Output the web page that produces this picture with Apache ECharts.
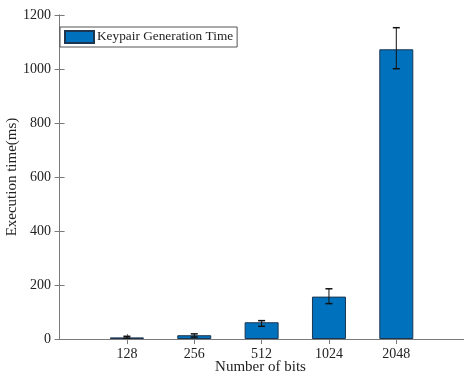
<!DOCTYPE html>
<html>
<head>
<meta charset="utf-8">
<script src="https://cdn.jsdelivr.net/npm/echarts@6/dist/echarts.min.js"></script>
<style>
  html, body { margin: 0; padding: 0; background: #fff; }
  #chart { width: 464px; height: 372px; }
</style>
</head>
<body>
<div id="chart"></div>
<script>
// Key sizes and their mean keypair generation times (ms)
const bitLabels = ['128', '256', '512', '1024', '2048'];
const meanTimes = [6, 14, 62, 157, 1073];
const lowerBounds = [3, 7, 47, 131, 1001];
const upperBounds = [10, 19, 68, 186, 1153];
const yTicks = [0, 200, 400, 600, 800, 1000, 1200];

const positions = bitLabels.map((_, i) => i + 1);
const barData = positions.map((p, i) => [p, meanTimes[i]]);
const errData = positions.map((p, i) => [p, lowerBounds[i], upperBounds[i]]);

const serif = '"Liberation Serif", "DejaVu Serif", serif';
const axisGray = '#7a7a7a';
const textColor = '#222';

const chart = echarts.init(document.getElementById('chart'), null, { renderer: 'canvas' });

const tickStyle = { inside: true, length: 5, lineStyle: { color: axisGray, width: 1 } };

chart.setOption({
  animation: false,
  backgroundColor: '#fff',
  grid: { left: 56, right: -1, top: 15, bottom: 33, containLabel: false, outerBoundsMode: 'none' },
  legend: {
    show: true,
    left: 60,
    top: 27,
    orient: 'vertical',
    itemWidth: 29,
    itemHeight: 12,
    itemGap: 0,
    padding: [3, 4, 3, 4],
    borderColor: '#555',
    borderWidth: 1,
    borderRadius: 0,
    backgroundColor: '#fff',
    textStyle: { fontFamily: serif, fontSize: 13.3, color: textColor, padding: [0, 0, 0, -2] },
    data: [{ name: 'Keypair Generation Time', icon: 'rect' }]
  },
  xAxis: [
    {
      type: 'value',
      min: -0.053,
      max: 6.02,
      position: 'bottom',
      splitLine: { show: false },
      axisLine: { show: true, lineStyle: { color: axisGray, width: 1 } },
      axisTick: Object.assign({ show: true, customValues: positions }, tickStyle),
      axisLabel: {
        customValues: positions,
        formatter: v => bitLabels[Math.round(v) - 1] || '',
        fontFamily: serif, fontSize: 14, color: textColor, margin: 8
      },
      name: 'Number of bits',
      nameLocation: 'middle',
      nameGap: 21,
      nameMoveOverlap: false,
      nameTextStyle: { fontFamily: serif, fontSize: 15, color: textColor }
    },
    {
      type: 'value',
      min: -0.053,
      max: 6.02,
      position: 'top',
      splitLine: { show: false },
      axisLine: { show: true, lineStyle: { color: axisGray, width: 1 } },
      axisTick: Object.assign({ show: true, customValues: positions }, tickStyle),
      axisLabel: { show: false }
    }
  ],
  yAxis: [
    {
      type: 'value',
      min: 0,
      max: 1200,
      interval: 200,
      position: 'left',
      splitLine: { show: false },
      axisLine: { show: true, lineStyle: { color: axisGray, width: 1 } },
      axisTick: Object.assign({ show: true }, tickStyle),
      axisLabel: {
        fontFamily: serif, fontSize: 14, color: textColor, margin: 5,
        customValues: yTicks,
        formatter: v => String(v)
      },
      name: 'Execution time(ms)',
      nameLocation: 'middle',
      nameGap: 36,
      nameRotate: 90,
      nameMoveOverlap: false,
      nameTextStyle: { fontFamily: serif, fontSize: 15, color: textColor }
    },
    {
      type: 'value',
      min: 0,
      max: 1200,
      interval: 200,
      position: 'right',
      splitLine: { show: false },
      axisLine: { show: true, lineStyle: { color: axisGray, width: 1 } },
      axisTick: Object.assign({ show: true }, tickStyle),
      axisLabel: { show: false }
    }
  ],
  series: [
    {
      name: 'Keypair Generation Time',
      type: 'bar',
      xAxisIndex: 0,
      yAxisIndex: 0,
      barWidth: 34,
      data: barData,
      itemStyle: { color: '#0072BD', borderColor: '#1c3550', borderWidth: 1 },
      z: 2
    },
    {
      name: 'error',
      type: 'custom',
      xAxisIndex: 0,
      yAxisIndex: 0,
      data: errData,
      z: 5,
      renderItem: function (params, api) {
        const x = api.value(0);
        const lo = api.coord([x, api.value(1)]);
        const hi = api.coord([x, api.value(2)]);
        const half = 3.5;
        const style = { stroke: '#111', lineWidth: 1, fill: null };
        return {
          type: 'group',
          children: [
            { type: 'line', shape: { x1: hi[0], y1: hi[1], x2: lo[0], y2: lo[1] }, style: style },
            { type: 'line', shape: { x1: hi[0] - half, y1: hi[1], x2: hi[0] + half, y2: hi[1] }, style: { stroke: '#111', lineWidth: 1.5 } },
            { type: 'line', shape: { x1: lo[0] - half, y1: lo[1], x2: lo[0] + half, y2: lo[1] }, style: { stroke: '#111', lineWidth: 1.5 } }
          ]
        };
      }
    }
  ]
});
</script>
</body>
</html>
